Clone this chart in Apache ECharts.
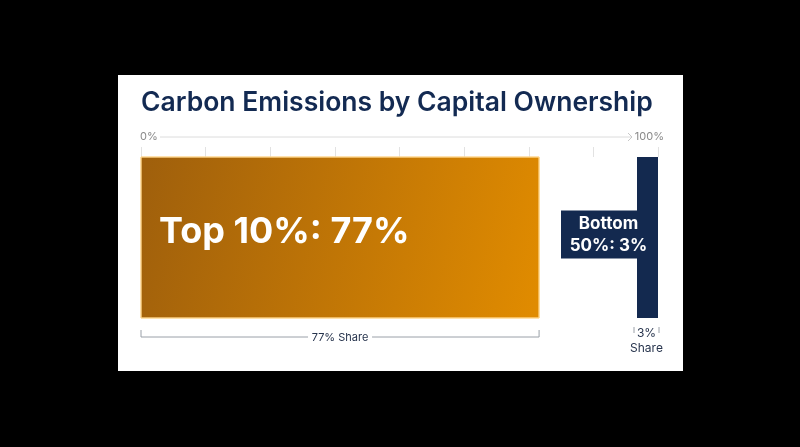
<!DOCTYPE html>
<html><head><meta charset="utf-8">
<script src="https://cdn.jsdelivr.net/npm/echarts@6/dist/echarts.min.js"></script>
<style>html,body{margin:0;padding:0;background:#000;}#c{width:800px;height:447px;}</style>
</head><body><div id="c"></div>
<script>
// ---- data ----
const groups = ['Top 10%', 'Bottom 50%'];
const shares = [77, 3];
const barLabels = ['Top 10%: 77%', 'Bottom\n50%: 3%'];
const shareLabels = ['77% Share', '3%\nShare'];
const axisMin = 0, axisMax = 100, axisStep = 12.5;
const axisEndValues = [0, 100];
const axisEndLabels = ['0%', '100%'];
const titleText = 'Carbon Emissions by Capital Ownership';

const NAVY = '#13294f';
const FONT = 'Inter, "Noto Sans", sans-serif';

// top group starts at 0, bottom group ends at 100
const rows = [
  [axisMin, axisMin + shares[0], 0],
  [axisMax - shares[1], axisMax, 1]
];

const chart = echarts.init(document.getElementById('c'), null, {renderer: 'canvas'});

function renderItem(params, api) {
  const idx = api.value(2);
  const p0 = api.coord([api.value(0), 0]);
  const p1 = api.coord([api.value(1), 0]);
  const h = api.size([0, 1])[1];
  const top = p0[1] - h / 2, bottom = p0[1] + h / 2, cy = p0[1];
  let x0 = p0[0], x1 = p1[0];
  const children = [];
  const bracketColor = '#9aa0a8';
  const textColor = '#27344d';
  if (idx === 0) {
    children.push({
      type: 'rect', shape: {x: x0, y: top, width: x1 - x0, height: h},
      style: {
        fill: new echarts.graphic.LinearGradient(0, 0.2, 1, 0.8, [
          {offset: 0, color: '#a0600c'}, {offset: 1, color: '#e08b00'}]),
        stroke: 'rgba(255,214,140,0.9)', lineWidth: 1
      }
    });
    children.push({
      type: 'text', style: {text: barLabels[0], x: x0 + 18, y: cy - 5,
        fill: '#fff', font: 'bold 36px ' + FONT, verticalAlign: 'middle', align: 'left'}
    });
    const by = bottom + 19, ty = bottom + 12;
    const mid = (x0 + x1) / 2;
    children.push({type: 'polyline', shape: {points: [[x0, ty], [x0, by], [mid - 32, by]]},
      style: {stroke: bracketColor, lineWidth: 1, fill: null}});
    children.push({type: 'polyline', shape: {points: [[mid + 32, by], [x1, by], [x1, ty]]},
      style: {stroke: bracketColor, lineWidth: 1, fill: null}});
    children.push({type: 'text', style: {text: shareLabels[0], x: mid, y: by + 1,
      fill: textColor, font: '11px ' + FONT, align: 'center', verticalAlign: 'middle'}});
  } else {
    x0 = Math.min(x0, x1 - 21);
    children.push({type: 'rect', shape: {x: x0, y: top, width: x1 - x0, height: h},
      style: {fill: NAVY}});
    children.push({type: 'rect', shape: {x: x0 - 76, y: cy - 27, width: 77, height: 48},
      style: {fill: NAVY}});
    children.push({type: 'text', style: {text: barLabels[1], x: (x0 - 76 + x1) / 2 - 1, y: cy - 3,
      fill: '#fff', font: 'bold 17px ' + FONT, align: 'center', verticalAlign: 'middle', lineHeight: 22}});
    const ty = bottom + 9, by = bottom + 15;
    children.push({type: 'line', shape: {x1: x0 - 3, y1: ty, x2: x0 - 3, y2: by},
      style: {stroke: bracketColor, lineWidth: 1}});
    children.push({type: 'line', shape: {x1: x1 + 1, y1: ty, x2: x1 + 1, y2: by},
      style: {stroke: bracketColor, lineWidth: 1}});
    children.push({type: 'text', style: {text: shareLabels[1], x: (x0 + x1) / 2 - 1, y: bottom + 8,
      fill: textColor, font: '12px ' + FONT, align: 'center', verticalAlign: 'top', lineHeight: 15}});
  }
  return {type: 'group', children};
}

chart.setOption({
  backgroundColor: '#000',
  animation: false,
  title: {text: titleText, left: 136, top: 85,
    textStyle: {fontFamily: FONT, fontSize: 26.5, fontWeight: 600, color: '#132a52'}},
  grid: {left: 141, right: 142, top: 157, bottom: 129},
  xAxis: {
    type: 'value', position: 'top', min: axisMin, max: axisMax, interval: axisStep,
    axisLine: {show: false},
    axisTick: {show: true, length: 10, lineStyle: {color: '#e2e2e2'}},
    splitLine: {show: false},
    axisLabel: {show: false}
  },
  yAxis: {type: 'category', data: ['Share'], show: false},
  series: [{type: 'custom', renderItem, data: rows, encode: {x: [0, 1], y: 2}, clip: false}]
});

// axis end labels and arrow line between them
const xs = chart.convertToPixel({xAxisIndex: 0}, axisEndValues[0]);
const xe = chart.convertToPixel({xAxisIndex: 0}, axisEndValues[1]);
const ay = 137;
const labelStyle = {fill: '#8a8a8a', font: '11px ' + FONT, verticalAlign: 'middle'};
chart.setOption({graphic: [
  {type: 'rect', z: -10, shape: {x: 118, y: 75, width: 565, height: 296}, style: {fill: '#fff'}},
  {type: 'text', style: Object.assign({text: axisEndLabels[0], x: xs - 1, y: ay, align: 'left'}, labelStyle)},
  {type: 'text', style: Object.assign({text: axisEndLabels[1], x: xe + 6, y: ay, align: 'right'}, labelStyle)},
  {type: 'line', shape: {x1: xs + 19, y1: ay, x2: xe - 26, y2: ay}, style: {stroke: '#dcdcdc', lineWidth: 1}},
  {type: 'polyline', shape: {points: [[xe - 30, ay - 4], [xe - 26, ay], [xe - 30, ay + 4]]},
    style: {stroke: '#c8c8c8', lineWidth: 1, fill: null}}
]});
</script></body></html>
